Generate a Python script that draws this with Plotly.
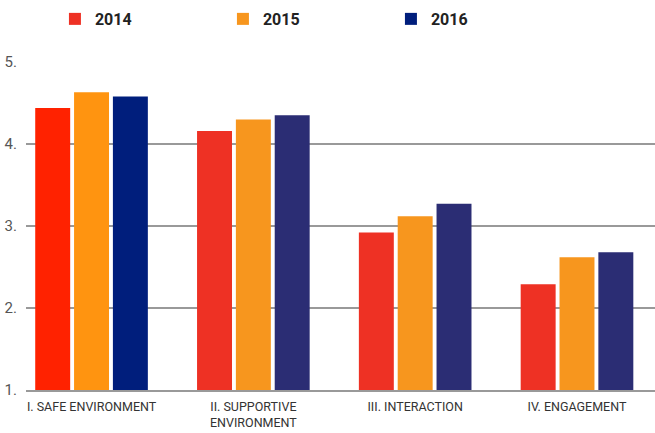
import plotly.graph_objects as go

categories = ["I. SAFE ENVIRONMENT", "II. SUPPORTIVE<br>ENVIRONMENT", "III. INTERACTION", "IV. ENGAGEMENT"]
years = ["2014", "2015", "2016"]
values_2014 = [4.44, 4.16, 2.92, 2.29]
values_2015 = [4.63, 4.30, 3.12, 2.62]
values_2016 = [4.58, 4.35, 3.27, 2.68]
tick_vals = [1, 2, 3, 4, 5]
tick_text = ["1.", "2.", "3.", "4.", "5."]

# first group uses brighter shades, others slightly muted
colors = {
    "2014": ["#FF2200", "#EE3124", "#EE3124", "#EE3124"],
    "2015": ["#FF9410", "#F7961E", "#F7961E", "#F7961E"],
    "2016": ["#001E7C", "#2B2D74", "#2B2D74", "#2B2D74"],
}
legend_colors = {"2014": "#EE3124", "2015": "#F7961E", "2016": "#001E7C"}

FONT = "Roboto, Liberation Sans, sans-serif"

fig = go.Figure()
for yr, vals in zip(years, [values_2014, values_2015, values_2016]):
    fig.add_trace(go.Bar(
        name=yr, x=list(range(len(categories))), y=[v - 1 for v in vals], base=1,
        marker=dict(color=colors[yr], line=dict(width=0)),
        hoverinfo="skip", showlegend=False,
    ))
# legend-only entries on a hidden overlay axis so they don't take bar slots
for yr in years:
    fig.add_trace(go.Bar(name=yr, x=[None], y=[None], xaxis="x2",
                         marker=dict(color=legend_colors[yr], line=dict(width=0)),
                         showlegend=True, hoverinfo="skip"))

fig.update_layout(
    width=655, height=433,
    margin=dict(l=26, r=0, t=62, b=43),
    paper_bgcolor="white", plot_bgcolor="white",
    barmode="group", bargap=0.28, bargroupgap=0.1,
    font=dict(family=FONT, color="#333"),
    legend=dict(
        orientation="h", x=0.046, xanchor="left", y=1.183, yanchor="top",
        entrywidth=123, entrywidthmode="pixels",
        font=dict(size=16, color="#222", family=FONT, weight="bold"),
        itemwidth=30, bgcolor="rgba(0,0,0,0)",
    ),
    xaxis=dict(
        tickvals=list(range(len(categories))), ticktext=categories,
        range=[-0.405, 3.482], showgrid=False, zeroline=False,
        showline=True, linecolor="#999", linewidth=1.5,
        tickfont=dict(size=12.5, color="#333", family=FONT), ticks="",
        ticklabelstandoff=4,
    ),
    xaxis2=dict(overlaying="x", visible=False, range=[0, 1]),
    yaxis=dict(
        range=[1, 5], tickvals=tick_vals, ticktext=tick_text,
        showgrid=True, gridcolor="#999", gridwidth=1.5, zeroline=False,
        tickfont=dict(size=15, color="#555", family=FONT), ticks="",
        ticklabelstandoff=8,
    ),
)

fig.write_html("out.html", config={"displayModeBar": False},
               post_script="document.body.style.margin='0px';")
